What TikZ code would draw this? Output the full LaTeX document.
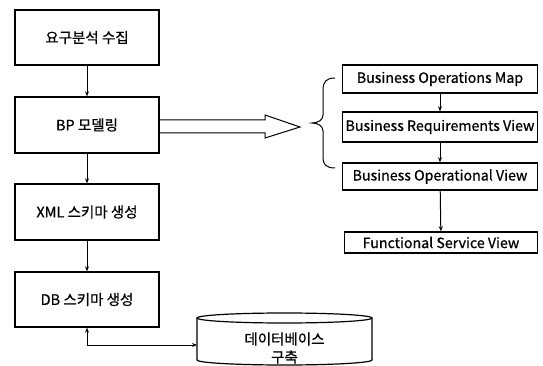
\documentclass[tikz,border=0pt]{standalone}
\usepackage{fontspec}
\setmainfont{Noto Sans CJK KR}[BoldFont={Noto Sans CJK KR},BoldFeatures={FakeBold=0.7}]
\usetikzlibrary{arrows.meta}
\begin{document}
\begin{tikzpicture}[x=1pt,y=-1pt,
  lbox/.style={draw,line width=1.4pt,minimum width=144pt,minimum height=55pt,inner sep=0pt,font=\fontsize{14.5}{16}\selectfont\bfseries},
  rbox/.style={draw,line width=1.4pt,minimum width=195pt,inner sep=0pt,font=\fontsize{14.2}{16}\selectfont\bfseries},
  conn/.style={line width=1pt,-{Stealth[length=5pt,width=4pt]}},
  every node/.style={text=black}]
\useasboundingbox (0,0) rectangle (543,366);
\node[lbox] (b1) at (87,37.5) {요구분석 수집};
\node[lbox,minimum height=56pt] (b2) at (87,125) {BP 모델링};
\node[lbox,minimum height=56pt] (b3) at (87,212) {XML 스키마 생성};
\node[lbox] (b4) at (87,299.5) {DB 스키마 생성};
\node[rbox,minimum height=28pt] (r1) at (440,79) {Business Operations Map};
\node[rbox,minimum height=30pt] (r2) at (440,127) {Business Requirements View};
\node[rbox,minimum height=27pt] (r3) at (440,176.5) {Business Operational View};
\node[rbox,minimum height=21pt,minimum width=193pt] (r4) at (441,242.5) {Functional Service View};
\draw[conn] (b1) -- (b2);
\draw[conn] (b2) -- (b3);
\draw[conn] (b3) -- (b4);
\draw[conn] (r1) -- (r2);
\draw[conn] (r2) -- (r3);
\draw[conn] (r3) -- (r4);
% hollow arrow
\draw[line width=1pt] (b2.east |- 0,120) -- (265,120) -- (265,115) -- (300,127) -- (265,138) -- (265,133) -- (b2.east |- 0,133);
% brace
\draw[line width=1pt] (335,78) .. controls (326,78) and (323,82) .. (323,90) -- (323,115) .. controls (323,120) and (318,123) .. (312,123) .. controls (318,123) and (323,126) .. (323,131) -- (323,158) .. controls (323,164) and (326,168) .. (335,168);
% cylinder
\draw[line width=1.2pt] (284.5,318) ellipse [x radius=87.5pt, y radius=5pt];
\draw[line width=1.2pt] (197,318) -- (197,360) arc[start angle=180,end angle=360,x radius=87.5pt,y radius=5pt] -- (372,318);
\node[align=center,font=\fontsize{14.5}{18}\selectfont\bfseries] (cyl) at (284.5,348) {데이터베이스\\구축};
\coordinate (cylin) at (197,345);
\draw[line width=1pt,{Stealth[length=5pt,width=4pt]}-{Stealth[length=5pt,width=4pt]}] (b4.south) |- (cylin);
\end{tikzpicture}
\end{document}
